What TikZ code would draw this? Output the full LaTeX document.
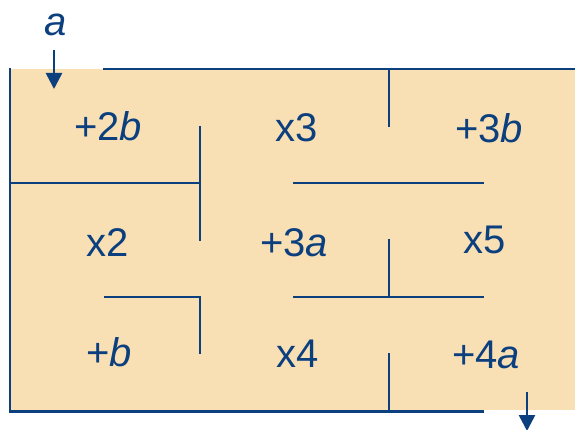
\documentclass[tikz,border=0pt]{standalone}
\usepackage{fontspec}
\setmainfont{Liberation Sans}
\usetikzlibrary{arrows.meta}
\definecolor{wallc}{HTML}{0B3F7E}
\definecolor{floorc}{HTML}{F9DFB4}
\begin{document}
\begin{tikzpicture}[x=1pt,y=-1pt,
  wall/.style={draw=wallc,line width=2.6pt,line cap=butt},
  lbl/.style={text=wallc,font=\fontsize{40}{46}\selectfont,inner sep=0pt,anchor=center},
  flow/.style={draw=wallc,line width=2.6pt,-{Triangle[width=16pt,length=16pt]}}]
\useasboundingbox (0,0) rectangle (575,430);
\fill[floorc] (10,69) rectangle (575,410);
% outer walls
\draw[wall] (10,68) -- (10,411.3) -- (484,411.3);
\draw[wall] (103,69) -- (575,69);
% inner walls
\draw[wall] (389,69) -- (389,127);
\draw[wall] (10,183) -- (200,183);
\draw[wall] (200,126) -- (200,241);
\draw[wall] (293,183) -- (484,183);
\draw[wall] (389,239) -- (389,297);
\draw[wall] (293,297) -- (484,297);
\draw[wall] (104,297) -- (200,297) -- (200,354);
\draw[wall] (389,353) -- (389,410);
% labels
\node[lbl] (r1) at (108,126) {+2\textit{b}};
\node[lbl] (r2) at (297,128) {x3};
\node[lbl] (r3) at (489,128) {+3\textit{b}};
\node[lbl] (r4) at (108,243) {x2};
\node[lbl] (r5) at (294,243) {+3\textit{a}};
\node[lbl] (r6) at (485,240) {x5};
\node[lbl] (r7) at (109,352) {+\textit{b}};
\node[lbl] (r8) at (298,354) {x4};
\node[lbl] (r9) at (486,355) {+4\textit{a}};
% entry and exit
\node[lbl] (ain) at (56,25) {\textit{a}};
\coordinate (inS) at (54,50);
\coordinate (inE) at (54,89);
\draw[flow] (inS) -- (inE);
\coordinate (outS) at (527,392);
\coordinate (outE) at (527,431);
\draw[flow] (outS) -- (outE);
\end{tikzpicture}
\end{document}
